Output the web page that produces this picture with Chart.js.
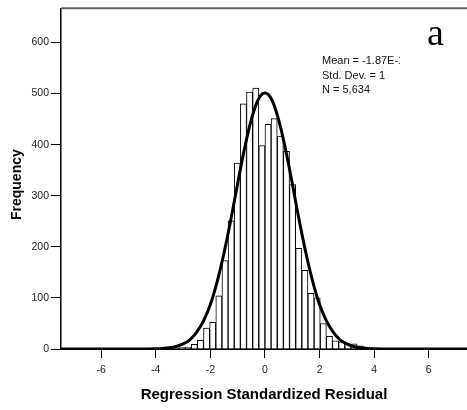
<!DOCTYPE html>
<html>
<head>
<meta charset="utf-8">
<script src="https://cdn.jsdelivr.net/npm/chart.js@4.4.1/dist/chart.umd.min.js"></script>
<style>
  html, body { margin: 0; padding: 0; background: #fff; }
  #wrap { width: 467px; height: 410px; position: relative; }
</style>
</head>
<body>
<div id="wrap"><canvas id="c" width="467" height="410"></canvas></div>
<script>
// ---- data ----
const binCenters = [-3.7125,-3.4875,-3.2625,-3.0375,-2.8125,-2.5875,-2.3625,-2.1375,-1.9125,-1.6875,
  -1.4625,-1.2375,-1.0125,-0.7875,-0.5625,-0.3375,-0.1125,0.1125,0.3375,0.5625,0.7875,1.0125,1.2375,
  1.4625,1.6875,1.9125,2.1375,2.3625,2.5875,2.8125,3.0375,3.2625,3.4875,3.7125,3.9375,4.1625];
const binCounts = [1,1,2,3,4,9,17,41,52,104,173,251,364,480,503,511,398,440,451,417,387,322,197,154,109,100,
  50,25,16,14,9,10,6,3,2,1];

const curveX = [-7.5,-6,-5,-4.5,-4,-3.75,-3.5,-3.25,-3,-2.75,-2.5,-2.25,-2,-1.75,-1.5,-1.25,-1,-0.75,-0.5,-0.25,
  0,0.25,0.5,0.75,1,1.25,1.5,1.75,2,2.25,2.5,2.75,3,3.25,3.5,3.75,4,4.5,5,6,7.5];
const curveY = [0,0,0,0.1,0.5,1.1,2.4,5,10,18,33,55,87,132,188,253,324,392,449,488,
  501,488,449,392,324,253,188,132,87,55,33,18,10,5,2.4,1.1,0.5,0.1,0,0,0];

const xTicks = [-6,-4,-2,0,2,4,6];
const yTicks = [0,100,200,300,400,500,600];
const xTitle = 'Regression Standardized Residual';
const yTitle = 'Frequency';
const statLines = ['Mean = -1.87E-16', 'Std. Dev. = 1', 'N = 5,634'];
const panelLabel = 'a';

// ---- chart ----
Chart.defaults.font.family = "'Liberation Sans', Arial, sans-serif";
Chart.defaults.color = '#111';

const barData = binCenters.map((x, i) => ({ x: x, y: binCounts[i] }));
const lineData = curveX.map((x, i) => ({ x: x, y: curveY[i] }));

const decor = {
  id: 'decor',
  afterDraw(chart) {
    const { ctx, chartArea: a } = chart;
    ctx.save();
    // top frame line
    ctx.strokeStyle = '#666';
    ctx.lineWidth = 2;
    ctx.beginPath();
    ctx.moveTo(a.left, a.top);
    ctx.lineTo(a.right, a.top);
    ctx.stroke();
    // statistics box (clipped at right as in the reference)
    ctx.beginPath();
    ctx.rect(a.left, a.top, 339, 120);
    ctx.clip();
    ctx.fillStyle = '#111';
    ctx.font = "11px 'Liberation Sans', Arial, sans-serif";
    ctx.textBaseline = 'middle';
    ctx.textAlign = 'left';
    statLines.forEach((t, i) => ctx.fillText(t, 322, 61 + i * 14.5));
    ctx.restore();
    // panel letter
    ctx.save();
    ctx.fillStyle = '#000';
    ctx.font = "38px 'Liberation Serif', 'Times New Roman', serif";
    ctx.textBaseline = 'alphabetic';
    ctx.fillText(panelLabel, 427, 45);
    ctx.restore();
    // y axis title (sits a little below the plot centre in the reference)
    ctx.save();
    ctx.fillStyle = '#000';
    ctx.font = "bold 14px 'Liberation Sans', Arial, sans-serif";
    ctx.textAlign = 'center';
    ctx.textBaseline = 'middle';
    ctx.translate(17, (a.top + a.bottom) / 2 + 6);
    ctx.rotate(-Math.PI / 2);
    ctx.fillText(yTitle, 0, 0);
    ctx.restore();
  }
};

new Chart(document.getElementById('c'), {
  type: 'bar',
  data: {
    datasets: [
      {
        type: 'line',
        data: lineData,
        borderColor: '#000',
        borderWidth: 3,
        pointRadius: 0,
        fill: false,
        cubicInterpolationMode: 'monotone'
      },
      {
        type: 'bar',
        data: barData,
        backgroundColor: '#fff',
        borderColor: '#000',
        borderWidth: 1,
        barPercentage: 1,
        categoryPercentage: 1
      }
    ]
  },
  options: {
    responsive: false,
    animation: false,
    layout: { padding: { top: 4, right: 0, left: 0, bottom: 0 } },
    plugins: { legend: { display: false }, tooltip: { enabled: false } },
    scales: {
      x: {
        type: 'linear',
        min: -7.47,
        max: 7.4,
        offset: false,
        afterBuildTicks: s => { s.ticks = xTicks.map(v => ({ value: v })); },
        afterFit: s => { s.height = 61; },
        ticks: { font: { size: 10.5 }, padding: 6, maxRotation: 0, autoSkip: false, color: '#222' },
        grid: { offset: false, drawOnChartArea: false, drawTicks: true, tickLength: 9, color: '#000', lineWidth: 1 },
        border: { display: true, color: '#000', width: 2 },
        title: { display: true, text: xTitle, font: { size: 15, weight: 'bold' }, color: '#000', padding: { top: 0, bottom: 6 } }
      },
      y: {
        min: 0,
        max: 667,
        afterBuildTicks: s => { s.ticks = yTicks.map(v => ({ value: v })); },
        afterFit: s => { s.width = 61; },
        ticks: { font: { size: 10.5 }, padding: 2, color: '#222' },
        grid: { drawOnChartArea: false, drawTicks: true, tickLength: 10, color: '#000', lineWidth: 1 },
        border: { display: true, color: '#000', width: 1.5 },
        title: { display: false, text: yTitle }
      }
    }
  },
  plugins: [decor]
});
</script>
</body>
</html>
